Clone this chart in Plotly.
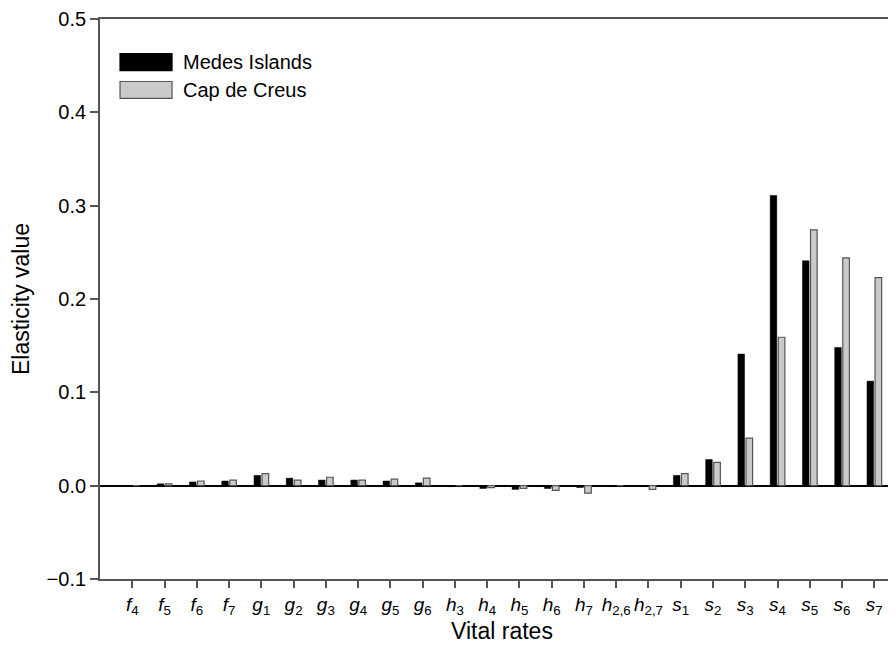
import plotly.graph_objects as go

rate_letters = ["f", "f", "f", "f", "g", "g", "g", "g", "g", "g",
                "h", "h", "h", "h", "h", "h", "h",
                "s", "s", "s", "s", "s", "s", "s"]
rate_subs = ["4", "5", "6", "7", "1", "2", "3", "4", "5", "6",
             "3", "4", "5", "6", "7", "2,6", "2,7",
             "1", "2", "3", "4", "5", "6", "7"]
categories = [f"<i>{l}</i><sub>{s}</sub>" for l, s in zip(rate_letters, rate_subs)]

medes = [0.0, 0.002, 0.004, 0.005, 0.011, 0.008, 0.006, 0.006, 0.005, 0.003,
         -0.001, -0.003, -0.004, -0.003, -0.002, -0.001, -0.001,
         0.011, 0.028, 0.141, 0.311, 0.241, 0.148, 0.112]
creus = [0.0, 0.002, 0.005, 0.006, 0.013, 0.006, 0.009, 0.006, 0.007, 0.008,
         0.0, -0.002, -0.003, -0.005, -0.008, 0.0, -0.004,
         0.013, 0.025, 0.051, 0.159, 0.274, 0.244, 0.223]

series_names = ["Medes Islands", "Cap de Creus"]

FONT = "Liberation Sans, Arial, sans-serif"

fig = go.Figure()
fig.add_trace(go.Bar(x=categories, y=medes, name=series_names[0],
                     marker=dict(color="black", line=dict(color="black", width=0.5)),
                     showlegend=False))
fig.add_trace(go.Bar(x=categories, y=creus, name=series_names[1],
                     marker=dict(color="#cacaca", line=dict(color="#555555", width=1.2)),
                     showlegend=False))

# legend drawn as patches + labels (paper coordinates)
legend_items = [(series_names[0], "black", "black", 0.9380, 0.9079),
                (series_names[1], "#cacaca", "#555555", 0.8884, 0.8582)]
for name, fill, edge, y1, y0 in legend_items:
    fig.add_shape(type="rect", xref="paper", yref="paper",
                  x0=0.0249, x1=0.0896, y0=y0, y1=y1,
                  fillcolor=fill, line=dict(color=edge, width=1.2))
    fig.add_annotation(xref="paper", yref="paper", x=0.1007, y=(y0 + y1) / 2,
                       text=name, showarrow=False, xanchor="left", yanchor="middle",
                       font=dict(family=FONT, size=20, color="black"))

fig.update_layout(
    width=896, height=653,
    margin=dict(l=92, r=0, t=7, b=82),
    plot_bgcolor="white", paper_bgcolor="white",
    barmode="group", bargap=0.5, bargroupgap=0.18,
    font=dict(family=FONT, color="black"),
)
fig.update_xaxes(
    type="category", range=[-1, 23.92], tickangle=0,
    showline=True, linecolor="#555555", linewidth=1.8, mirror=True,
    ticks="outside", ticklen=7, tickwidth=1.5, tickcolor="#555555",
    tickfont=dict(family=FONT, size=19, color="black"),
    showgrid=False, zeroline=False,
    title=dict(text="Vital rates", font=dict(family=FONT, size=23), standoff=6),
)
fig.update_yaxes(
    range=[-0.1, 0.5], dtick=0.1, tickformat=".1f", ticklabeloverflow="allow",
    showline=True, linecolor="#555555", linewidth=1.8,
    ticks="outside", ticklen=8, tickwidth=1.5, tickcolor="#555555",
    tickfont=dict(family=FONT, size=20, color="black"),
    showgrid=False,
    zeroline=True, zerolinecolor="black", zerolinewidth=1.5,
    title=dict(text="Elasticity value", font=dict(family=FONT, size=23), standoff=20),
)

fig.write_html("out.html")
